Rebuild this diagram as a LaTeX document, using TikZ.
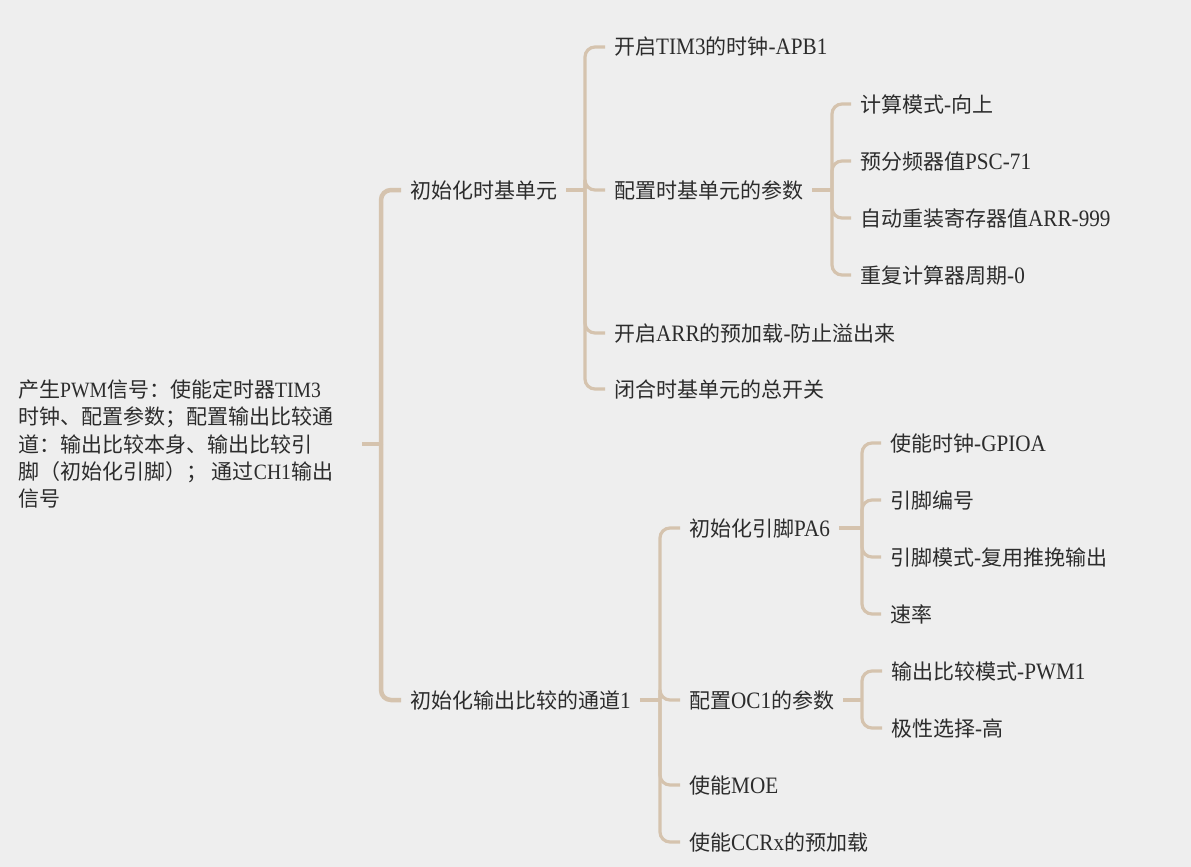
\documentclass[tikz,border=0pt]{standalone}
\usepackage{fontspec}
\setmainfont{Noto Sans CJK SC}
\newfontfamily\latf[Scale=1.12,FakeStretch=0.9]{Liberation Serif}
\newfontfamily\latr[Scale=1.04,FakeStretch=0.9]{Liberation Serif}
\newcommand\La[1]{{\latf #1}}
\newcommand\Lr[1]{{\latr #1}}
\definecolor{bg}{HTML}{EEEEEE}
\definecolor{ln}{HTML}{D5C3AE}
\definecolor{tx}{HTML}{2C2C2C}
\begin{document}
\begin{tikzpicture}[x=1pt,y=-1pt,
  lbl/.style={anchor=west, inner xsep=9pt, inner ysep=0pt, text height=17pt, text depth=1pt, text=tx, font=\fontsize{21}{27}\selectfont},
  rootlbl/.style={anchor=west, inner xsep=9pt, inner ysep=0pt, align=left, text=tx, font=\fontsize{21}{27.3}\selectfont},
  link/.style={draw=ln, line width=3.2pt, rounded corners=10pt},
  mainlink/.style={link, line width=4.5pt}]
\fill[bg] (0,0) rectangle (1191,867);
\useasboundingbox (0,0) rectangle (1191,867);

% nodes
\node[rootlbl] (root) at (9,444) {产生\Lr{PWM}信号：使能定时器\Lr{TIM3}\\时钟、配置参数；配置输出比较通\\道：输出比较本身、输出比较引\\脚（初始化引脚）； 通过\Lr{CH1}输出\\信号};

\node[lbl] (n1) at (401,190) {初始化时基单元};
\node[lbl] (n2) at (401,700) {初始化输出比较的通道\La{1}};

\node[lbl] (n11) at (605,47) {开启\La{TIM3}的时钟\La{-APB1}};
\node[lbl] (n12) at (605,190) {配置时基单元的参数};
\node[lbl] (n13) at (605,333) {开启\La{ARR}的预加载\La{-}防止溢出来};
\node[lbl] (n14) at (605,389) {闭合时基单元的总开关};

\node[lbl] (n121) at (851,104) {计算模式\La{-}向上};
\node[lbl] (n122) at (851,161) {预分频器值\La{PSC-71}};
\node[lbl] (n123) at (851,218) {自动重装寄存器值\La{ARR-999}};
\node[lbl] (n124) at (851,275) {重复计算器周期\La{-0}};

\node[lbl] (n21) at (680,528) {初始化引脚\La{PA6}};
\node[lbl] (n22) at (680,700) {配置\La{OC1}的参数};
\node[lbl] (n23) at (680,785) {使能\La{MOE}};
\node[lbl] (n24) at (680,842) {使能\La{CCRx}的预加载};

\node[lbl] (n211) at (881,443) {使能时钟\La{-GPIOA}};
\node[lbl] (n212) at (881,500) {引脚编号};
\node[lbl] (n213) at (881,557) {引脚模式\La{-}复用推挽输出};
\node[lbl] (n214) at (881,614) {速率};

\node[lbl] (n221) at (882,671) {输出比较模式\La{-PWM1}};
\node[lbl] (n222) at (882,728) {极性选择\La{-}高};

% bracket coordinates
\coordinate (rs) at (362,444);
\coordinate (rb) at (381,444);
\coordinate (b1) at (585,190);
\coordinate (b12) at (832,190);
\coordinate (b2) at (660,700);
\coordinate (b21) at (862,528);
\coordinate (b22) at (862,700);

% root
\draw[mainlink] (rs) -- (rb);
\draw[mainlink] (rb) |- (n1.west);
\draw[mainlink] (rb) |- (n2.west);

% n1
\draw[link] (n1.east) -- (b1);
\foreach \c in {n11,n12,n13,n14} \draw[link] (b1) |- (\c.west);
% n12
\draw[link] (n12.east) -- (b12);
\foreach \c in {n121,n122,n123,n124} \draw[link] (b12) |- (\c.west);
% n2
\draw[link] (n2.east) -- (b2);
\foreach \c in {n21,n22,n23,n24} \draw[link] (b2) |- (\c.west);
% n21
\draw[link] (n21.east) -- (b21);
\foreach \c in {n211,n212,n213,n214} \draw[link] (b21) |- (\c.west);
% n22
\draw[link] (n22.east) -- (b22);
\foreach \c in {n221,n222} \draw[link] (b22) |- (\c.west);
\end{tikzpicture}
\end{document}
